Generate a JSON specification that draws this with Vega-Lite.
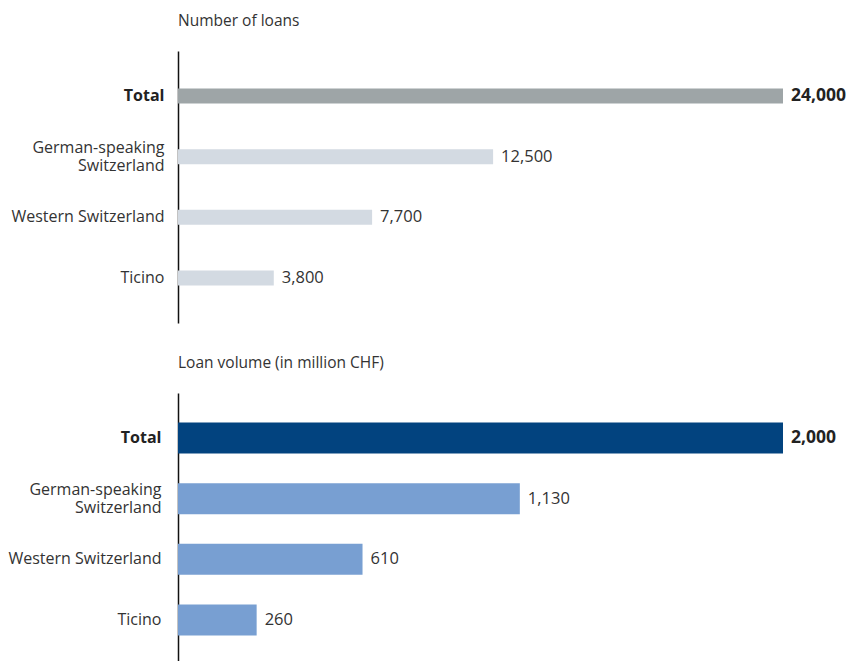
{
  "$schema": "https://vega.github.io/schema/vega-lite/v6.json",
  "padding": {"left": 7, "top": 13, "right": 5, "bottom": 0},
  "config": {
    "font": "Open Sans",
    "view": {"stroke": null},
    "title": {"fontSize": 15.5, "fontWeight": "normal", "color": "#333333", "anchor": "start", "frame": "group", "offset": 22},
    "axis": {"labelFont": "Open Sans", "labelFontSize": 16, "labelColor": "#333333"}
  },
  "data": {"values": [
    {"panel": "loans", "region": "Total", "value": 24000},
    {"panel": "loans", "region": "German-speaking Switzerland", "value": 12500},
    {"panel": "loans", "region": "Western Switzerland", "value": 7700},
    {"panel": "loans", "region": "Ticino", "value": 3800},
    {"panel": "volume", "region": "Total", "value": 2000},
    {"panel": "volume", "region": "German-speaking Switzerland", "value": 1130},
    {"panel": "volume", "region": "Western Switzerland", "value": 610},
    {"panel": "volume", "region": "Ticino", "value": 260}
  ]},
  "spacing": 32,
  "vconcat": [
    {
      "title": "Number of loans",
      "width": 605,
      "height": 272,
      "transform": [{"filter": "datum.panel == 'loans'"}],
      "encoding": {
        "y": {"field": "region", "type": "nominal", "sort": null,
          "scale": {"paddingInner": 0, "paddingOuter": 0.24},
          "axis": {"title": null, "ticks": false, "domainColor": "#111111", "domainWidth": 1.5, "labelPadding": 14, "labelLineHeight": 18,
            "labelExpr": "datum.value == 'German-speaking Switzerland' ? ['German-speaking','Switzerland'] : datum.value",
            "labelOffset": {"condition": {"test": "datum.value == 'German-speaking Switzerland'", "value": -9}, "value": 0},
            "labelFontWeight": {"condition": {"test": "datum.value == 'Total'", "value": "bold"}, "value": "normal"},
            "labelColor": {"condition": {"test": "datum.value == 'Total'", "value": "#222222"}, "value": "#333333"}}},
        "x": {"field": "value", "type": "quantitative", "scale": {"domain": [0, 24000]}, "axis": null}
      },
      "layer": [
        {"mark": {"type": "bar", "size": 15},
         "encoding": {"color": {"condition": {"test": "datum.region == 'Total'", "value": "#9EA5A7"}, "value": "#D3DAE2"}}},
        {"transform": [{"filter": "datum.region != 'Total'"}],
         "mark": {"type": "text", "align": "left", "dx": 8, "fontSize": 16.5, "color": "#333333"},
         "encoding": {"text": {"field": "value", "type": "quantitative", "format": ","}}},
        {"transform": [{"filter": "datum.region == 'Total'"}],
         "mark": {"type": "text", "align": "left", "dx": 8, "fontSize": 17.5, "fontWeight": "bold", "color": "#222222"},
         "encoding": {"text": {"field": "value", "type": "quantitative", "format": ","}}}
      ]
    },
    {
      "title": "Loan volume (in million CHF)",
      "width": 605,
      "height": 272,
      "transform": [{"filter": "datum.panel == 'volume'"}],
      "encoding": {
        "y": {"field": "region", "type": "nominal", "sort": null,
          "scale": {"paddingInner": 0, "paddingOuter": 0.24},
          "axis": {"title": null, "ticks": false, "domainColor": "#111111", "domainWidth": 1.5, "labelPadding": 17, "labelLineHeight": 18,
            "labelExpr": "datum.value == 'German-speaking Switzerland' ? ['German-speaking','Switzerland'] : datum.value",
            "labelOffset": {"condition": {"test": "datum.value == 'German-speaking Switzerland'", "value": -9}, "value": 0},
            "labelFontWeight": {"condition": {"test": "datum.value == 'Total'", "value": "bold"}, "value": "normal"},
            "labelColor": {"condition": {"test": "datum.value == 'Total'", "value": "#222222"}, "value": "#333333"}}},
        "x": {"field": "value", "type": "quantitative", "scale": {"domain": [0, 2000]}, "axis": null}
      },
      "layer": [
        {"mark": {"type": "bar", "size": 31},
         "encoding": {"color": {"condition": {"test": "datum.region == 'Total'", "value": "#02437F"}, "value": "#789FD2"}}},
        {"transform": [{"filter": "datum.region != 'Total'"}],
         "mark": {"type": "text", "align": "left", "dx": 8, "fontSize": 16.5, "color": "#333333"},
         "encoding": {"text": {"field": "value", "type": "quantitative", "format": ","}}},
        {"transform": [{"filter": "datum.region == 'Total'"}],
         "mark": {"type": "text", "align": "left", "dx": 8, "fontSize": 17.5, "fontWeight": "bold", "color": "#222222"},
         "encoding": {"text": {"field": "value", "type": "quantitative", "format": ","}}}
      ]
    }
  ]
}
